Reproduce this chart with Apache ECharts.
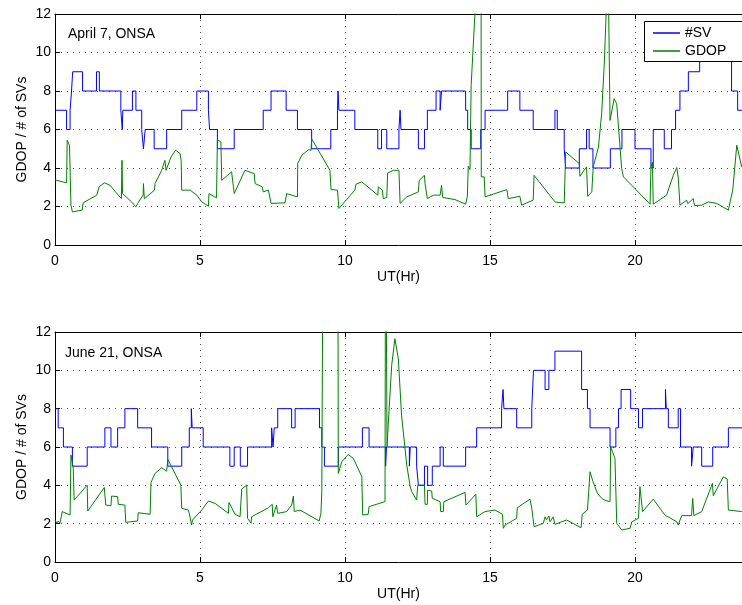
<!DOCTYPE html>
<html>
<head>
<meta charset="utf-8">
<script src="https://cdn.jsdelivr.net/npm/echarts@6/dist/echarts.min.js"></script>
<style>
html,body{margin:0;padding:0;background:#fff;}
#chart{width:742px;height:605px;}
</style>
</head>
<body>
<div id="chart"></div>
<script>
// ---------- Tick labels / axis ----------
const xTicks = [0, 5, 10, 15, 20];
const yTicks = [0, 2, 4, 6, 8, 10, 12];
const xVisibleMax = 23.69; // the figure is cropped at the right edge (full range 0..24)
const panelTitles = ["April 7, ONSA", "June 21, ONSA"];
const seriesNames = ["#SV", "GDOP"];

// ---------- April 7: number of satellites (level starting at time T) ----------
const aprSvT = [0,0.40,0.52,0.57,0.61,0.95,1.43,1.53,2.27,2.32,2.34,2.67,2.79,2.99,3.05,3.11,3.42,3.85,4.37,4.89,5.29,5.33,5.60,6.18,7.18,7.45,7.97,8.36,8.85,9.51,9.74,9.76,9.79,10.34,11.13,11.26,11.44,11.86,11.90,11.93,12.53,12.74,12.84,13.14,13.28,13.33,14.16,14.23,14.35,14.68,14.83,15.61,16.03,16.49,17.24,17.32,17.56,17.61,18.08,18.33,18.42,18.55,19.15,19.55,20.00,20.55,20.63,21.01,21.26,21.40,21.55,21.84,22.23,23.33,23.54,24];
const aprSvV = [7,6,7,8,9,8,9,8,7,6,7,8,7,6,5,6,5,6,7,8,7,6,5,6,7,8,7,6,5,6,7,8,7,6,5,6,5,6,7,6,5,6,7,8,7,8,7,6,5,6,7,8,7,6,7,6,5,4,5,6,5,4,5,6,5,4,6,5,6,7,8,9,10,8,7,7];

// ---------- April 7: GDOP ----------
const aprGdopT = [0,0.40,0.42,0.50,0.55,0.60,0.94,0.97,1.44,1.49,1.52,1.70,1.90,2.18,2.29,2.31,2.33,2.64,2.70,2.79,2.85,3.04,3.05,3.08,3.43,3.45,3.68,3.79,3.83,4.00,4.16,4.31,4.35,4.37,4.66,4.89,5.06,5.29,5.31,5.57,5.60,5.72,5.75,6.09,6.18,6.55,6.87,6.90,7.15,7.18,7.36,7.45,7.93,7.99,8.36,8.37,8.51,8.74,8.83,8.85,9.48,9.52,9.74,9.79,10.34,10.38,10.58,11.13,11.15,11.29,11.32,11.44,11.47,11.67,11.86,11.90,12.13,12.53,12.56,12.74,12.76,12.84,13.05,13.28,13.33,13.37,13.79,14.16,14.22,14.25,14.31,14.35,14.62,14.69,14.70,14.80,14.83,15.58,15.63,16.03,16.09,16.49,16.52,17.24,17.30,17.38,17.56,17.61,18.08,18.10,18.33,18.37,18.51,18.56,18.74,18.85,18.94,19.00,19.06,19.11,19.14,19.28,19.37,19.54,19.60,20.00,20.52,20.55,20.60,20.63,21.09,21.32,21.44,21.49,21.55,21.78,21.82,22.01,22.05,22.30,22.53,22.82,23.22,23.28,23.37,23.51,23.68,24];
const aprGdopV = [3.38,3.23,5.44,5.18,2.07,1.72,1.81,2.19,2.59,2.50,3.02,3.23,3.10,2.59,2.41,4.40,2.67,2.24,2.16,1.98,2.16,2.60,3.19,2.40,2.85,3.19,3.88,4.40,3.88,4.57,4.92,4.75,4.40,2.85,2.85,2.59,2.24,2.02,2.67,2.45,5.47,5.35,3.36,3.80,2.67,3.88,3.71,3.19,3.02,2.76,2.85,2.16,2.19,2.67,2.50,4.23,4.66,4.95,4.92,5.52,3.88,2.88,2.85,1.90,2.85,3.16,3.28,2.59,3.02,2.85,2.41,2.47,3.74,3.88,3.88,2.16,2.50,2.76,3.36,3.62,3.19,2.41,2.59,2.59,3.10,2.47,2.36,2.12,2.53,4.09,3.92,8.29,16,16,3.54,3.54,2.50,2.88,2.41,2.53,2.07,2.33,3.62,2.24,2.33,2.20,2.19,4.83,4.23,3.57,4.06,2.53,2.76,4.06,5.09,6.82,9.40,11.8,16,16,6.47,7.60,7.34,3.97,3.54,2.93,2.12,4.06,4.30,2.12,2.59,3.62,4.02,3.54,2.07,2.33,2.15,2.41,2.05,2.07,2.24,2.16,1.81,2.24,2.85,5.18,4.06,3.80];

// ---------- June 21: number of satellites ----------
const junSvT = [0,0.11,0.29,0.60,1.11,1.72,1.93,2.16,2.41,2.85,3.33,3.89,4.37,4.63,4.70,4.73,5.11,6.03,6.18,6.39,6.64,7.47,7.52,7.56,7.68,8.16,8.28,9.12,9.20,9.29,9.77,10.60,10.83,11.40,11.43,12.22,12.25,12.47,12.53,12.74,12.85,13.01,13.28,13.39,14.16,14.54,15.40,15.45,15.48,15.92,16.44,16.50,16.90,17.03,17.24,18.16,18.36,18.45,19.14,19.34,19.43,19.52,19.85,20.12,20.26,21.05,21.08,21.15,21.49,21.57,21.95,22.01,22.30,22.68,23.22,24];
const junSvV = [8,7,6,5,6,7,6,7,8,7,6,5,6,7,8,7,6,5,6,5,6,7,6,7,8,7,8,7,6,5,6,7,6,5,6,5,6,5,4,5,4,5,6,5,6,7,8,9,8,7,8,10,9,10,11,9,8,7,6,7,8,9,8,7,8,9,8,7,8,6,5,6,5,6,7,7];

// ---------- June 21: GDOP ----------
const junGdopT = [0,0.06,0.11,0.17,0.25,0.52,0.55,0.63,0.66,1.11,1.13,1.70,1.75,1.93,1.95,2.16,2.18,2.41,2.44,2.85,2.87,3.28,3.31,3.45,3.68,3.85,3.89,4.34,4.37,4.60,4.63,4.71,4.74,5.06,5.29,5.52,5.98,6.00,6.21,6.38,6.44,6.61,6.64,6.76,6.78,7.36,7.49,7.51,7.64,7.68,7.99,8.16,8.22,8.25,8.45,9.11,9.17,9.20,9.25,9.75,9.77,9.89,10.11,10.29,10.58,10.61,10.80,10.83,11.38,11.40,11.43,11.45,11.49,11.61,11.72,11.84,11.95,12.13,12.24,12.30,12.47,12.51,12.74,12.76,12.84,12.85,12.99,13.01,13.28,13.30,13.39,13.41,14.14,14.17,14.51,14.54,14.83,15.17,15.43,15.46,15.52,15.92,15.94,16.38,16.44,16.52,16.84,16.90,16.95,17.03,17.07,17.18,17.24,17.64,18.14,18.18,18.36,18.45,18.55,18.70,18.85,19.00,19.14,19.16,19.31,19.37,19.54,19.83,19.89,20.12,20.17,20.26,20.63,21.03,21.44,21.49,21.61,21.95,21.99,22.03,22.30,22.67,22.70,23.05,23.18,23.22,23.68,24];
const junGdopV = [2.19,2.02,2.14,2.02,2.63,2.45,5.58,4.88,3.23,4.01,2.66,3.89,2.97,2.94,3.44,3.41,3.01,2.97,2.07,2.14,2.57,2.49,4.15,4.62,4.92,4.74,5.35,4.01,2.80,2.71,2.54,1.93,2.19,2.71,3.18,3.06,2.54,3.11,2.49,2.36,3.81,4.01,2.28,2.02,2.36,2.83,3.01,2.36,2.97,2.54,2.63,2.97,3.44,2.63,2.71,2.14,2.54,3.67,20,20,4.62,5.23,5.61,5.40,4.45,2.45,2.49,2.89,3.15,20,20,6.00,7.14,10.26,11.65,10.60,7.66,5.06,4.01,3.67,3.23,4.01,4.01,3.01,3.01,3.75,3.70,3.32,3.15,2.63,2.63,3.15,3.63,2.97,3.53,2.36,2.63,2.71,2.49,1.76,1.93,2.28,2.83,3.28,2.80,1.84,2.02,2.36,2.20,2.40,2.10,2.36,1.97,2.19,1.79,2.49,2.71,4.71,4.20,3.60,3.32,3.20,3.15,6.01,5.40,2.02,1.67,1.76,2.10,2.28,3.93,2.63,3.28,2.45,2.10,1.93,2.42,2.42,3.32,2.42,2.63,4.10,3.46,4.45,4.33,2.71,2.63,2.60];

function pairs(t, v) { return t.map((x, i) => [x, v[i]]); }

const FONT = "'Liberation Sans', Arial, Helvetica, sans-serif";
const grids = [
  {left: 55, top: 14, width: 687, height: 231, containLabel: false, outerBoundsMode: 'none'},
  {left: 55, top: 332, width: 687, height: 230, containLabel: false, outerBoundsMode: 'none'}
];

function xBottom(gi) {
  return {
    type: 'value', gridIndex: gi, min: 0, max: xVisibleMax, interval: 5, position: 'bottom',
    name: 'UT(Hr)', nameLocation: 'middle', nameGap: 25, nameMoveOverlap: false,
    nameTextStyle: {fontFamily: FONT, fontSize: 14, color: '#000'},
    axisLine: {show: true, onZero: false, lineStyle: {color: '#000', width: 1}},
    axisTick: {show: true, inside: true, length: 5, lineStyle: {color: '#000'}},
    axisLabel: {fontFamily: FONT, fontSize: 14, color: '#000', margin: 9, showMaxLabel: false,
      formatter: v => (xTicks.indexOf(v) >= 0 ? String(v) : '')},
    splitLine: {show: true, showMaxLine: false,
      lineStyle: {color: '#555', type: [1, 5], width: 1}}
  };
}
function xTop(gi) {
  return {
    type: 'value', gridIndex: gi, min: 0, max: xVisibleMax, interval: 5, position: 'top',
    axisLine: {show: true, onZero: false, lineStyle: {color: '#000', width: 1}},
    axisTick: {show: true, inside: true, length: 5, lineStyle: {color: '#000'}},
    axisLabel: {show: false}, splitLine: {show: false}
  };
}
function yLeft(gi) {
  return {
    type: 'value', gridIndex: gi, min: 0, max: 12, interval: 2,
    name: 'GDOP / # of SVs', nameLocation: 'middle', nameGap: 26, nameMoveOverlap: false,
    nameTextStyle: {fontFamily: FONT, fontSize: 14, color: '#000'},
    axisLine: {show: true, onZero: false, lineStyle: {color: '#000', width: 1}},
    axisTick: {show: true, inside: true, length: 5, lineStyle: {color: '#000'}},
    axisLabel: {fontFamily: FONT, fontSize: 14, color: '#000', margin: 4,
      formatter: v => (yTicks.indexOf(v) >= 0 ? String(v) : '')},
    splitLine: {show: true, lineStyle: {color: '#555', type: [1, 5], width: 1}}
  };
}

const chart = echarts.init(document.getElementById('chart'), null, {renderer: 'canvas'});
chart.setOption({
  animation: false,
  backgroundColor: '#fff',
  title: [
    {text: panelTitles[0], left: 68, top: 27, padding: 0,
     textStyle: {fontFamily: FONT, fontSize: 14, fontWeight: 'normal', color: '#000'}},
    {text: panelTitles[1], left: 65, top: 346, padding: 0,
     textStyle: {fontFamily: FONT, fontSize: 14, fontWeight: 'normal', color: '#000'}}
  ],
  // legend frame (extends past the cropped right edge, as in the original figure)
  graphic: [{
    type: 'rect', z: 8, silent: true,
    shape: {x: 644.5, y: 21.5, width: 140, height: 40},
    style: {fill: '#fff', stroke: '#000', lineWidth: 1}
  }],
  legend: {
    data: seriesNames, orient: 'vertical', left: 644, top: 21,
    icon: 'rect', itemWidth: 27, itemHeight: 1.5,
    padding: [5, 10, 5, 9], itemGap: 4,
    textStyle: {fontFamily: FONT, fontSize: 14, color: '#000', lineHeight: 14},
    z: 10
  },
  grid: grids,
  xAxis: [xBottom(0), xTop(0), xBottom(1), xTop(1)],
  yAxis: [yLeft(0), yLeft(1)],
  series: [
    {name: seriesNames[0], type: 'line', xAxisIndex: 0, yAxisIndex: 0, step: 'end',
     data: pairs(aprSvT, aprSvV), symbol: 'none', clip: true,
     lineStyle: {color: '#0000ff', width: 1}, itemStyle: {color: '#0000ff'}},
    {name: seriesNames[1], type: 'line', xAxisIndex: 0, yAxisIndex: 0,
     data: pairs(aprGdopT, aprGdopV), symbol: 'none', clip: true,
     lineStyle: {color: '#008000', width: 1}, itemStyle: {color: '#008000'}},
    {name: seriesNames[0], type: 'line', xAxisIndex: 2, yAxisIndex: 1, step: 'end',
     data: pairs(junSvT, junSvV), symbol: 'none', clip: true,
     lineStyle: {color: '#0000ff', width: 1}, itemStyle: {color: '#0000ff'}},
    {name: seriesNames[1], type: 'line', xAxisIndex: 2, yAxisIndex: 1,
     data: pairs(junGdopT, junGdopV), symbol: 'none', clip: true,
     lineStyle: {color: '#008000', width: 1}, itemStyle: {color: '#008000'}}
  ]
});
</script>
</body>
</html>
